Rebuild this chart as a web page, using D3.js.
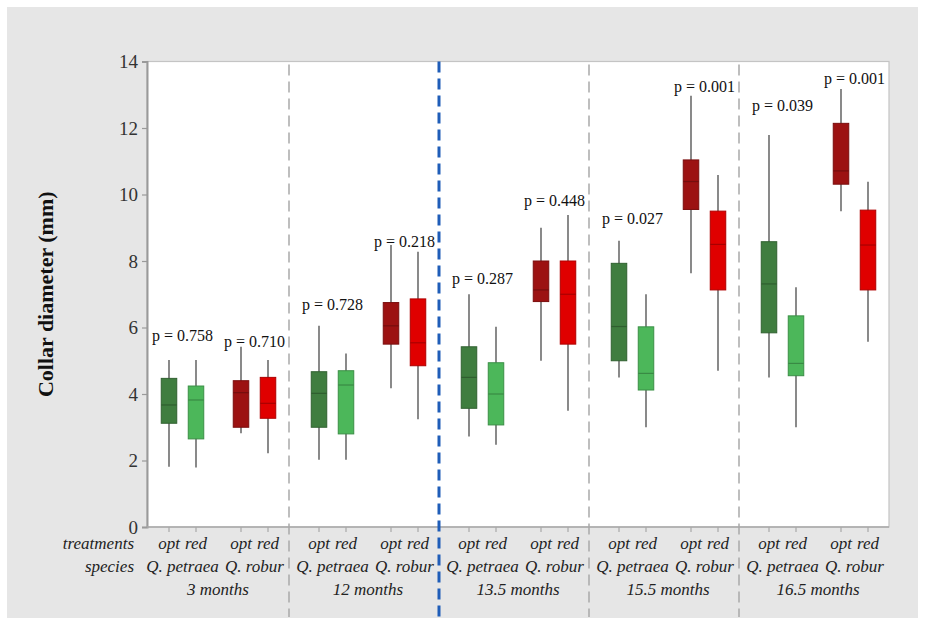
<!DOCTYPE html>
<html>
<head>
<meta charset="utf-8">
<script src="https://cdn.jsdelivr.net/npm/d3@7"></script>
<style>
  html, body { margin: 0; padding: 0; background: #ffffff; }
  svg { display: block; }
  text { font-family: "Liberation Serif", "Times New Roman", serif; }
</style>
</head>
<body>
<svg id="chart" width="925" height="621"></svg>
<script>
// Sampling periods, species and treatments
const periods = ["3 months", "12 months", "13.5 months", "15.5 months", "16.5 months"];
const speciesNames = ["Q. petraea", "Q. robur"];
const treatments = ["opt", "red"];

// Box statistics (mm), ordered period → species → treatment
const whiskerLow  = [1.81, 1.79, 2.82, 2.22,  2.02, 2.02, 4.17, 3.24,  2.72, 2.47, 5.00, 3.50,  4.50, 3.00, 7.63, 4.70,  4.50, 3.00,  9.50, 5.57];
const q1          = [3.12, 2.65, 3.00, 3.27,  3.00, 2.80, 5.50, 4.85,  3.57, 3.07, 6.78, 5.50,  5.00, 4.12, 9.55, 7.13,  5.84, 4.55, 10.31, 7.13];
const medians     = [3.67, 3.82, 4.04, 3.72,  4.02, 4.27, 6.05, 5.54,  4.50, 4.00, 7.13, 7.00,  6.03, 4.62, 10.39, 8.50, 7.31, 4.92, 10.71, 8.48];
const q3          = [4.47, 4.24, 4.40, 4.50,  4.67, 4.70, 6.75, 6.86,  5.42, 4.94, 8.00, 8.00,  7.93, 6.02, 11.04, 9.50, 8.58, 6.35, 12.14, 9.53];
const whiskerHigh = [5.02, 5.02, 5.42, 5.02,  6.05, 5.22, 8.48, 8.28,  7.00, 6.02, 9.00, 9.38,  8.61, 7.00, 12.97, 10.59, 11.79, 7.21, 13.17, 10.38];

// Treatment comparison p-values per period × species, and the height (mm) they are written at
const pValues = ["0.758", "0.710", "0.728", "0.218", "0.287", "0.448", "0.027", "0.001", "0.039", "0.001"];
const pLabelAt = [5.59, 5.41, 6.53, 8.42, 7.31, 9.65, 9.11, 13.08, 12.51, 13.32];

const yTicks = [0, 2, 4, 6, 8, 10, 12, 14];

const colors = {
  "Q. petraea": { opt: "#3f7d3f", red: "#4cb75a" },
  "Q. robur":   { opt: "#9c1212", red: "#e00000" }
};

const svg = d3.select("#chart");

const plot = { left: 147, right: 889, top: 61.5, bottom: 527 };

// frame background
svg.append("rect").attr("x", 7).attr("y", 7).attr("width", 911).attr("height", 611).attr("fill", "#e6e6e6");
svg.append("rect")
  .attr("x", plot.left).attr("y", plot.top)
  .attr("width", plot.right - plot.left).attr("height", plot.bottom - plot.top)
  .attr("fill", "#ffffff").attr("stroke", "#c4c4c4").attr("stroke-width", 1.2);

// scales
const y = d3.scaleLinear().domain([0, 14]).range([plot.bottom, plot.top]);
const xGroup = d3.scaleBand().domain(periods).range([139, 889]).padding(0);
const xSpecies = d3.scalePoint().domain(speciesNames).range([43.5, 115.5]);
const xTreat = d3.scalePoint().domain(treatments).range([-13.5, 13.5]);

const boxes = [];
periods.forEach((p, pi) => {
  speciesNames.forEach((s, si) => {
    treatments.forEach((t, ti) => {
      const i = pi * 4 + si * 2 + ti;
      boxes.push({
        period: p, species: s, treatment: t,
        lo: whiskerLow[i], q1: q1[i], med: medians[i], q3: q3[i], hi: whiskerHigh[i],
        cx: xGroup(p) + xSpecies(s) + xTreat(t)
      });
    });
  });
});

// y axis
const yAxis = svg.append("g")
  .attr("transform", `translate(${plot.left},0)`)
  .call(d3.axisLeft(y).tickValues(yTicks).tickSize(5).tickPadding(4).tickFormat(d3.format("d")));
yAxis.attr("font-family", null);
yAxis.select(".domain").attr("stroke", "#9a9a9a").attr("stroke-width", 2);
yAxis.selectAll(".tick line").attr("stroke", "#9a9a9a").attr("stroke-width", 1.2);
yAxis.selectAll(".tick text")
  .attr("font-size", 19).attr("fill", "#333");

// x axis line and ticks at each box
svg.append("line")
  .attr("x1", plot.left).attr("x2", plot.right).attr("y1", plot.bottom).attr("y2", plot.bottom)
  .attr("stroke", "#a8a8a8").attr("stroke-width", 1.6);
svg.append("g").selectAll("line").data(boxes).join("line")
  .attr("x1", d => d.cx).attr("x2", d => d.cx)
  .attr("y1", plot.bottom).attr("y2", plot.bottom + 5)
  .attr("stroke", "#a8a8a8").attr("stroke-width", 1.2);

// period separators
svg.append("g").selectAll("line").data(periods.slice(1)).join("line")
  .attr("x1", d => xGroup(d)).attr("x2", d => xGroup(d))
  .attr("y1", (d, i) => i === 1 ? plot.top : plot.top + 3)
  .attr("y2", (d, i) => i === 1 ? 621 : 617)
  .attr("stroke", (d, i) => i === 1 ? "#1f5db8" : "#a9a9a9")
  .attr("stroke-width", (d, i) => i === 1 ? 3 : 1.5)
  .attr("stroke-dasharray", "11,6");

// box plots
const bw = 15.5;
const g = svg.append("g");
const boxG = g.selectAll("g.box").data(boxes).join("g").attr("class", "box");
boxG.append("line")
  .attr("x1", d => d.cx).attr("x2", d => d.cx)
  .attr("y1", d => y(d.hi)).attr("y2", d => y(d.lo))
  .attr("stroke", "#7d7d7d").attr("stroke-width", 1.8);
boxG.append("rect")
  .attr("x", d => d.cx - bw / 2).attr("width", bw)
  .attr("y", d => y(d.q3)).attr("height", d => y(d.q1) - y(d.q3))
  .attr("fill", d => colors[d.species][d.treatment])
  .attr("stroke", d => d3.color(colors[d.species][d.treatment]).darker(0.7))
  .attr("stroke-width", 1);
boxG.append("line")
  .attr("x1", d => d.cx - bw / 2).attr("x2", d => d.cx + bw / 2)
  .attr("y1", d => y(d.med)).attr("y2", d => y(d.med))
  .attr("stroke", d => d3.color(colors[d.species][d.treatment]).darker(0.8))
  .attr("stroke-width", 1.2);

// p-value labels
const pairs = [];
periods.forEach((p, pi) => speciesNames.forEach((s, si) => {
  pairs.push({ x: xGroup(p) + xSpecies(s), label: "p = " + pValues[pi * 2 + si], at: pLabelAt[pi * 2 + si] });
}));
svg.append("g").selectAll("text").data(pairs).join("text")
  .attr("x", d => d.x).attr("y", d => y(d.at))
  .attr("text-anchor", "middle")
  .attr("font-size", 16).attr("fill", "#111")
  .text(d => d.label);

// category labels under the axis
const lab = svg.append("g").attr("font-style", "italic").attr("font-size", 17).attr("fill", "#222");
lab.append("text").attr("x", 134).attr("y", 549).attr("text-anchor", "end").text("treatments");
lab.append("text").attr("x", 134).attr("y", 572).attr("text-anchor", "end").text("species");
lab.selectAll("text.trt").data(boxes).join("text").attr("class", "trt")
  .attr("x", d => d.cx).attr("y", 549).attr("text-anchor", "middle").text(d => d.treatment);
lab.selectAll("text.sp").data(periods.flatMap(p => speciesNames.map(s => ({ p, s })))).join("text").attr("class", "sp")
  .attr("x", d => xGroup(d.p) + xSpecies(d.s)).attr("y", 572).attr("text-anchor", "middle").text(d => d.s);
lab.selectAll("text.per").data(periods).join("text").attr("class", "per")
  .attr("x", d => xGroup(d) + xGroup.bandwidth() / 2 + 4).attr("y", 595).attr("text-anchor", "middle").text(d => d);

// y axis title
svg.append("text")
  .attr("transform", `translate(53,${(plot.top + plot.bottom) / 2}) rotate(-90)`)
  .attr("text-anchor", "middle")
  .attr("font-weight", "bold").attr("font-size", 22).attr("fill", "#111")
  .text("Collar diameter (mm)");
</script>
</body>
</html>
